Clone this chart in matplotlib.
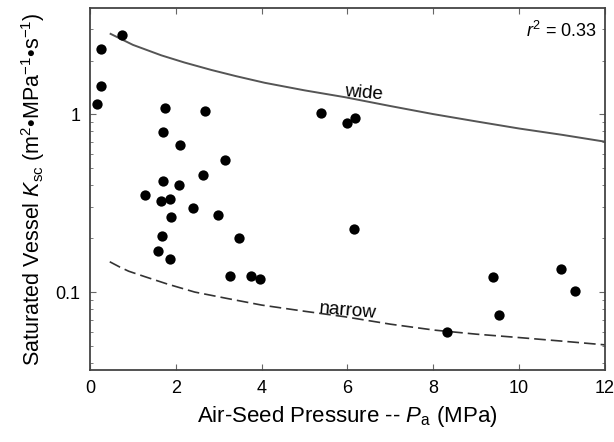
import numpy as np
import matplotlib
matplotlib.use("Agg")
import matplotlib.pyplot as plt
from matplotlib.ticker import LogLocator, NullFormatter, FixedLocator, FixedFormatter

plt.rcParams['font.family'] = ['Liberation Sans', 'DejaVu Sans']
plt.rcParams['mathtext.fontset'] = 'custom'
plt.rcParams['mathtext.rm'] = 'Liberation Sans'
plt.rcParams['mathtext.it'] = 'Liberation Sans:italic'

# measured vessels
pa = [0.74, 0.25, 0.25, 0.17, 1.75, 2.68, 5.38, 5.98, 6.18, 1.69, 2.10, 3.15,
      2.63, 1.69, 2.07, 1.28, 1.66, 1.87, 2.40, 2.99, 1.88, 3.48, 1.68, 1.58,
      1.87, 3.27, 3.75, 3.97, 6.14, 9.39, 10.98, 11.31, 9.54, 8.31]
ksc = [2.78, 2.31, 1.44, 1.14, 1.08, 1.04, 1.02, 0.89, 0.95, 0.79, 0.67, 0.55,
       0.456, 0.42, 0.40, 0.35, 0.326, 0.333, 0.295, 0.271, 0.263, 0.20, 0.207, 0.171,
       0.154, 0.123, 0.1225, 0.119, 0.225, 0.121, 0.135, 0.1017, 0.0743, 0.0598]

# model curves
wide_x = [0.46, 1.0, 1.66, 2.2, 2.83, 3.4, 4.07, 5.0, 5.94, 7.0, 8.0, 9.0, 10.0, 11.0, 12.0]
wide_y = [2.84, 2.45, 2.14, 1.95, 1.77, 1.635, 1.50, 1.36, 1.245, 1.11, 1.0, 0.91, 0.83, 0.765, 0.70]
narrow_x = [0.46, 0.7, 0.9, 1.28, 1.8, 2.44, 3.2, 4.0, 5.0, 5.93, 7.0, 8.03, 9.0, 10.0, 11.0, 12.0]
narrow_y = [0.148, 0.138, 0.131, 0.122, 0.111, 0.100, 0.092, 0.0845, 0.078, 0.0727, 0.066,
            0.0611, 0.058, 0.0555, 0.053, 0.0505]

fig = plt.figure(figsize=(6.14, 4.42), dpi=100)
ax = fig.add_axes([0.1466, 0.163, 0.8387, 0.819])

ax.plot(wide_x, wide_y, color='#555555', lw=1.4, solid_capstyle='butt')
ax.plot(narrow_x, narrow_y, color='#333333', lw=1.2, dashes=(7, 3))
ax.scatter(pa, ksc, s=55, color='black', zorder=3, linewidths=0)

ax.set_yscale('log')
ax.set_xlim(0, 12)
ax.set_ylim(0.0365, 3.95)

ax.xaxis.set_major_locator(FixedLocator([0, 2, 4, 6, 8, 10, 12]))
ax.yaxis.set_major_locator(FixedLocator([0.1, 1]))
ax.yaxis.set_major_formatter(FixedFormatter(['0.1', '1']))
ax.yaxis.set_minor_locator(LogLocator(base=10, subs=np.arange(2, 10)))
ax.yaxis.set_minor_formatter(NullFormatter())

ax.tick_params(which='both', direction='in', top=True, right=True,
               labelsize=13, color='#666666', pad=7)
ax.tick_params(which='major', length=4, width=0.8)
ax.tick_params(which='minor', length=2.5, width=0.6)
for sp in ax.spines.values():
    sp.set_color('#444444')
    sp.set_linewidth(1.3)

ax.text(6.38, 1.31, 'wide', fontsize=13.5, ha='center', va='center', rotation=-5)
ax.text(6.0, 0.078, 'narrow', fontsize=13.5, ha='center', va='center', rotation=-5)
ax.text(0.985, 0.965, '$r^2$ = 0.33', transform=ax.transAxes, fontsize=13,
        ha='right', va='top')

ax.set_xlabel('Air-Seed Pressure -- $P_\\mathrm{a}$ (MPa)', fontsize=16, labelpad=5)
ax.set_ylabel('Saturated Vessel $K_\\mathrm{sc}$ (m$^2$\u2022MPa$^{-1}$\u2022s$^{-1}$)',
              fontsize=15.5, labelpad=6)

fig.savefig('out.png', dpi=100)
